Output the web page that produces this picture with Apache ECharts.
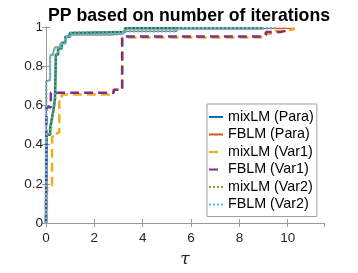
<!DOCTYPE html>
<html>
<head>
<meta charset="utf-8">
<script src="https://cdn.jsdelivr.net/npm/echarts@6/dist/echarts.min.js"></script>
<style>html,body{margin:0;padding:0;background:#fff;}#c{width:358px;height:273px;}</style>
</head>
<body>
<div id="c"></div>
<script>
const titleText = 'PP based on number of iterations';
const seriesNames = ['mixLM (Para)', 'FBLM (Para)', 'mixLM (Var1)', 'FBLM (Var1)', 'mixLM (Var2)', 'FBLM (Var2)'];
const xTicks = [0, 2, 4, 6, 8, 10];
const yTicks = [0, 0.2, 0.4, 0.6, 0.8, 1];

// [tau, fraction] step points (value holds from tau until next point)
const mixLMPara = [[0,0],[0.03,0.45],[0.17,0.48],[0.24,0.53],[0.3,0.57],[0.37,0.63],[0.41,0.86],[0.5,0.89],[0.65,0.92],[0.8,0.95],[0.98,0.97],[1.1,0.975],[3.27,0.993],[9.0,0.993]];
const fblmPara = [[0,0],[0.01,0.727],[0.17,0.857],[0.3,0.87],[0.37,0.897],[0.58,0.915],[0.79,0.948],[1.0,0.96],[2.6,0.965],[3.2,0.978],[5.4,0.993],[10.3,0.993]];
const mixLMVar1 = [[0,0],[0.05,0.19],[0.25,0.44],[0.45,0.46],[0.55,0.62],[0.65,0.655],[2.8,0.68],[3.15,0.947],[8.9,0.965],[9.3,0.98],[9.8,0.99],[10.3,0.99]];
const fblmVar1 = [[0,0],[0.02,0.59],[0.2,0.665],[2.8,0.68],[3.15,0.952],[8.9,0.96],[9.1,0.975],[9.7,0.985],[10.1,0.985]];
const mixLMVar2 = [[0,0],[0.03,0.45],[0.17,0.48],[0.24,0.53],[0.3,0.57],[0.37,0.63],[0.41,0.86],[0.5,0.89],[0.65,0.92],[0.8,0.95],[0.98,0.97],[1.1,0.975],[3.27,0.993],[9.0,0.993]];
const fblmVar2 = [[0,0],[0.01,0.727],[0.17,0.857],[0.3,0.87],[0.37,0.897],[0.58,0.915],[0.79,0.948],[1.0,0.96],[2.6,0.965],[3.2,0.978],[5.4,0.993],[9.5,0.993]];

const seriesData = [mixLMPara, fblmPara, mixLMVar1, fblmVar1, mixLMVar2, fblmVar2];
const colors = ['#0072BD', '#D95319', '#EDB120', '#7E2F8E', '#77AC30', '#4DBEEE'];
const widths = [2.5, 1.2, 2.5, 2.5, 2.5, 2.5];
const types = ['solid', 'solid', [9,5], [9,5], [2,2], [2,2]];

const chart = echarts.init(document.getElementById('c'), null, {renderer: 'canvas'});
const axisColor = '#9a9a9a';
const labelColor = '#262626';
const fontFam = 'Liberation Sans, Arial, Helvetica, sans-serif';

const series = seriesNames.map((n, i) => ({
  name: n,
  type: 'line',
  step: 'end',
  data: seriesData[i],
  showSymbol: false,
  symbol: 'none',
  clip: false,
  animation: false,
  xAxisIndex: 0, yAxisIndex: 0,
  lineStyle: {color: colors[i], width: widths[i], type: types[i]},
  itemStyle: {color: colors[i]}
}));

chart.setOption({
  animation: false,
  backgroundColor: '#fff',
  title: {
    text: titleText, left: 184, top: 2, textAlign: 'center',
    textStyle: {fontSize: 17.7, fontWeight: 'bold', color: '#000', fontFamily: fontFam}
  },
  grid: {left: 46, right: 34, top: 27, bottom: 46, containLabel: false},
  legend: {
    orient: 'vertical', left: 207, top: 104,
    data: seriesNames,
    itemWidth: 14, itemHeight: 14, itemGap: 3.5,
    padding: [6, 3, 5, 1],
    backgroundColor: '#fff', borderColor: '#a0a0a0', borderWidth: 1,
    itemStyle: {color: 'transparent', borderColor: 'transparent', borderWidth: 0, opacity: 0},
    textStyle: {fontSize: 14.3, lineHeight: 14, color: '#000', fontFamily: fontFam}
  },
  xAxis: [{
    type: 'value', min: 0, max: 11.5, interval: 2,
    name: 'τ', nameLocation: 'middle', nameGap: 28,
    nameTextStyle: {fontSize: 17, fontStyle: 'italic', fontFamily: 'DejaVu Serif, serif', color: '#262626'},
    axisLine: {show: true, lineStyle: {color: axisColor, width: 1}},
    axisTick: {show: true, inside: true, length: 4, lineStyle: {color: axisColor}},
    axisLabel: {show: true, color: labelColor, fontSize: 13.5, fontFamily: fontFam, margin: 8, showMaxLabel: false,
      formatter: v => xTicks.includes(v) ? String(v) : ''},
    splitLine: {show: false}
  }, {
    type: 'value', min: 0, max: 11.5, interval: 2, position: 'top',
    axisLine: {show: true, lineStyle: {color: axisColor, width: 1}},
    axisTick: {show: true, inside: true, length: 4, lineStyle: {color: axisColor}},
    axisLabel: {show: false}, splitLine: {show: false}
  }],
  yAxis: [{
    type: 'value', min: 0, max: 1, interval: 0.2,
    axisLine: {show: true, lineStyle: {color: axisColor, width: 1}},
    axisTick: {show: true, inside: true, length: 4, lineStyle: {color: axisColor}},
    axisLabel: {show: true, color: labelColor, fontSize: 13.5, fontFamily: fontFam, margin: 3,
      formatter: v => yTicks.some(t => Math.abs(t - v) < 1e-9) ? String(Math.round(v*10)/10) : ''},
    splitLine: {show: false}
  }, {
    type: 'value', min: 0, max: 1, interval: 0.2, position: 'right',
    axisLine: {show: true, lineStyle: {color: axisColor, width: 1}},
    axisTick: {show: true, inside: true, length: 4, lineStyle: {color: axisColor}},
    axisLabel: {show: false}, splitLine: {show: false}
  }],
  series: series
});
</script>
</body>
</html>
